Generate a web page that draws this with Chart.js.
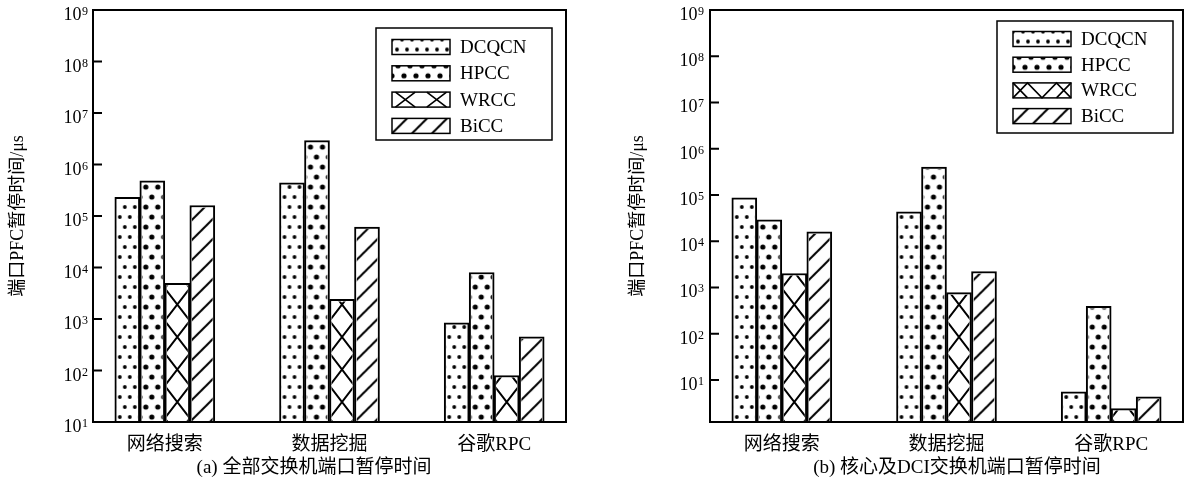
<!DOCTYPE html>
<html lang="zh">
<head>
<meta charset="UTF-8" />
<title>端口PFC暂停时间</title>
<script src="https://cdn.jsdelivr.net/npm/chart.js"></script>
<style>
  html, body { margin: 0; padding: 0; background: #fff; }
  .figure { position: relative; width: 1184px; height: 482px; }
  .panel { position: absolute; top: 0; height: 482px; }
  .caption {
    position: absolute; top: 457px; line-height: 20px; white-space: nowrap;
    font-size: 19px; font-family: "Liberation Serif", "Noto Sans CJK SC", serif;
    transform: translateX(-50%);
  }
</style>
</head>
<body>
<div class="figure">
  <div class="panel" style="left:0; width:580px"><canvas id="chartA"></canvas></div>
  <div class="panel" style="left:620px; width:564px"><canvas id="chartB"></canvas></div>
  <div class="caption" style="left:314px">(a) 全部交换机端口暂停时间</div>
  <div class="caption" style="left:957px">(b) 核心及DCI交换机端口暂停时间</div>
</div>

<script>
// categories & series
const categories = ["网络搜索", "数据挖掘", "谷歌RPC"];
const seriesNames = ["DCQCN", "HPCC", "WRCC", "BiCC"];
const yTicks = [1e1, 1e2, 1e3, 1e4, 1e5, 1e6, 1e7, 1e8, 1e9];

// (a) 全部交换机
const dcqcnA = [2.3e5, 4.4e5, 840];
const hpccA = [4.8e5, 2.9e6, 8000];
const wrccA = [4900, 2400, 80];
const biccA = [1.6e5, 6.1e4, 450];

// (b) 核心及DCI交换机
const dcqcnB = [8.7e4, 4.3e4, 5.5];
const hpccB = [2.9e4, 4.0e5, 390];
const wrccB = [2000, 770, 2.4];
const biccB = [1.6e4, 2200, 4.3];

const serif = '"Liberation Serif", "Noto Sans CJK SC", serif';
Chart.defaults.color = "#000";
Chart.defaults.font.family = serif;

// fill patterns (tiles)
function tile(w, h, draw) {
    const c = document.createElement("canvas");
    c.width = w;
    c.height = h;
    const g = c.getContext("2d");
    g.fillStyle = "#fff";
    g.fillRect(0, 0, w, h);
    g.fillStyle = "#000";
    g.strokeStyle = "#000";
    draw(g);
    return c;
}
function dots(g, pts, r) {
    pts.forEach(([x, y]) => {
        g.beginPath();
        g.arc(x, y, r, 0, Math.PI * 2);
        g.fill();
    });
}
const tiles = [
    tile(10, 20, (g) => dots(g, [[0, 5], [10, 5], [5, 15]], 1.9)),
    tile(12, 20, (g) => dots(g, [[6, 5], [0, 15], [12, 15]], 2.6)),
    null, // WRCC: lattice drawn per bar
    tile(20, 20, (g) => {
        g.lineWidth = 2;
        g.beginPath();
        [[-10, 10, 10, -10], [0, 20, 20, 0], [10, 30, 30, 10]].forEach(([a, b, c, d]) => {
            g.moveTo(a, b);
            g.lineTo(c, d);
        });
        g.stroke();
    }),
];
const patternCache = new WeakMap();
function patternsFor(ctx) {
    if (!patternCache.has(ctx)) {
        patternCache.set(ctx, tiles.map((t) => (t ? ctx.createPattern(t, "repeat") : null)));
    }
    return patternCache.get(ctx);
}

function clipTo(ctx, r) {
    ctx.beginPath();
    ctx.rect(r.left, r.top, r.right - r.left, r.bottom - r.top);
    ctx.clip();
}

// criss-cross lines of slope ±h/cw through (x0, y0 + k*h)
function lattice(ctx, r, x0, cw, h, y0, lw) {
    ctx.save();
    clipTo(ctx, r);
    const span = r.right - x0 + 2;
    const rise = (span * h) / cw;
    let a = y0 - Math.ceil((y0 - (r.top - rise - h)) / h) * h;
    ctx.beginPath();
    for (; a <= r.bottom + rise + h; a += h) {
        ctx.moveTo(x0, a);
        ctx.lineTo(x0 + span, a + rise);
        ctx.moveTo(x0, a);
        ctx.lineTo(x0 + span, a - rise);
    }
    ctx.lineWidth = lw || 2;
    ctx.strokeStyle = "#000";
    ctx.stroke();
    ctx.restore();
}

function paint(ctx, i, r, x0, cw, h, y0) {
    if (i === 2) {
        lattice(ctx, r, x0, cw, h, y0);
        return;
    }
    ctx.save();
    clipTo(ctx, r);
    ctx.translate(x0, r.bottom);
    ctx.fillStyle = patternsFor(ctx)[i];
    ctx.fillRect(r.left - x0, r.top - r.bottom, r.right - r.left, r.bottom - r.top);
    ctx.restore();
}

function legendSwatch(ctx, i, r, style) {
    if (i !== 2) {
        paint(ctx, i, r, r.left, 29, 15, r.top);
        return;
    }
    ctx.save();
    ctx.lineWidth = 1.6;
    ctx.strokeStyle = "#000";
    ctx.beginPath();
    const w = r.right - r.left;
    if (style === "x") {
        [0.06, 0.6].forEach((f) => {
            const x0 = r.left + f * w;
            const x1 = x0 + 0.34 * w;
            ctx.moveTo(x0, r.top);
            ctx.lineTo(x1, r.bottom);
            ctx.moveTo(x0, r.bottom);
            ctx.lineTo(x1, r.top);
        });
    } else {
        ctx.moveTo(r.left, r.bottom);
        ctx.lineTo(r.left + w * 0.25, r.top);
        ctx.lineTo(r.left + w * 0.5, r.bottom);
        ctx.lineTo(r.left + w * 0.75, r.top);
        ctx.lineTo(r.right, r.bottom);
        ctx.moveTo(r.left, r.top);
        ctx.lineTo(r.left + w * 0.25, r.bottom);
        ctx.moveTo(r.right, r.top);
        ctx.lineTo(r.left + w * 0.75, r.bottom);
    }
    ctx.stroke();
    ctx.restore();
}

const decor = {
    id: "decor",
    afterDatasetsDraw(chart) {
        const ctx = chart.ctx;
        chart.data.datasets.forEach((ds, di) => {
            chart.getDatasetMeta(di).data.forEach((bar) => {
                const { x, y, base, width } = bar.getProps(["x", "y", "base", "width"], true);
                const left = x - width / 2;
                const bottom = Math.max(y, base);
                const bw = ds.borderWidth;
                const r = { left: left + bw, top: Math.min(y, base) + bw, right: left + width - bw, bottom: bottom };
                if (r.bottom > r.top) paint(ctx, di, r, left, width, 32.5, bottom - 36.25);
            });
        });
    },
    afterDraw(chart, args, opts) {
        const { ctx, chartArea: a } = chart;
        const yScale = chart.scales.y;
        ctx.save();
        ctx.strokeStyle = "#000";
        ctx.fillStyle = "#000";
        ctx.lineWidth = 2;
        ctx.strokeRect(a.left, a.top, a.right - a.left, a.bottom - a.top);
        // inward ticks + "10^n" labels
        ctx.beginPath();
        ctx.textAlign = "right";
        ctx.textBaseline = "alphabetic";
        yScale.ticks.forEach((t) => {
            const py = yScale.getPixelForValue(t.value);
            ctx.moveTo(a.left, py);
            ctx.lineTo(a.left + 9, py);
            const exp = String(Math.round(Math.log10(t.value)));
            ctx.font = "12px " + serif;
            const ew = ctx.measureText(exp).width;
            const xr = a.left - opts.tickPad;
            ctx.fillText(exp, xr, py + 5);
            ctx.font = "18px " + serif;
            ctx.fillText("10", xr - ew - 0.5, py + 10);
        });
        ctx.stroke();

        // legend box
        const L = opts.legend;
        const bx = a.right - L.right - L.width;
        const by = a.top + L.top;
        ctx.lineWidth = 1.5;
        ctx.strokeRect(bx, by, L.width, L.height);
        ctx.font = "19px " + serif;
        ctx.textBaseline = "middle";
        ctx.textAlign = "left";
        chart.data.datasets.forEach((ds, i) => {
            const cy = by + L.rowStart + i * L.rowGap;
            const r = { left: bx + 16, top: cy - 7.5, right: bx + 74, bottom: cy + 7.5 };
            ctx.fillStyle = "#fff";
            ctx.fillRect(r.left, r.top, 58, 15);
            legendSwatch(ctx, i, r, L.wrcc);
            ctx.lineWidth = 1.5;
            ctx.strokeStyle = "#000";
            ctx.strokeRect(r.left, r.top, 58, 15);
            ctx.fillStyle = "#000";
            ctx.fillText(ds.label, bx + 84, cy + 1);
        });
        ctx.restore();
    },
};

function makeChart(id, series, yMin, yWidth, tickPad, padRight, legendOpts) {
    return new Chart(document.getElementById(id), {
        type: "bar",
        data: {
            datasets: series.map((vals, i) => ({
                label: seriesNames[i],
                data: vals.map((v, j) => ({ x: j, y: v })),
                backgroundColor: "#fff",
                borderColor: "#000",
                borderWidth: 2,
                borderSkipped: "start",
                barThickness: 25,
            })),
        },
        options: {
            responsive: true,
            maintainAspectRatio: false,
            animation: false,
            layout: { padding: { top: 10, right: padRight, bottom: 0, left: 0 } },
            plugins: {
                legend: { display: false },
                tooltip: { enabled: false },
                decor: { legend: legendOpts, tickPad: tickPad },
            },
            scales: {
                x: {
                    type: "linear",
                    min: -0.436,
                    max: 2.436,
                    offset: false,
                    grid: { display: false, drawTicks: false },
                    border: { display: false },
                    afterBuildTicks: (s) => {
                        s.ticks = categories.map((c, i) => ({ value: i }));
                    },
                    ticks: {
                        padding: 12,
                        font: { size: 19 },
                        maxRotation: 0,
                        autoSkip: false,
                        callback: (v) => categories[Math.round(v)],
                    },
                    afterFit: (s) => {
                        s.height = 60;
                    },
                },
                y: {
                    type: "logarithmic",
                    min: yMin,
                    max: 1e9,
                    grid: { display: false, drawTicks: false },
                    border: { display: false },
                    afterBuildTicks: (s) => {
                        s.ticks = yTicks.map((v) => ({ value: v }));
                    },
                    // labels drawn by the decor plugin with a raised exponent
                    ticks: { display: false, callback: (v) => "10^" + Math.round(Math.log10(v)) },
                    title: {
                        display: true,
                        text: "端口PFC暂停时间/μs",
                        font: { size: 18 },
                        padding: { top: 7, bottom: 0 },
                    },
                    afterFit: (s) => {
                        s.width = yWidth;
                    },
                },
            },
        },
        plugins: [decor],
    });
}

makeChart("chartA", [dcqcnA, hpccA, wrccA, biccA], 10, 93, 5, 14,
    { right: 14, top: 18, width: 176, height: 112, rowStart: 19, rowGap: 26.3, wrcc: "x" });
makeChart("chartB", [dcqcnB, hpccB, wrccB, biccB], 1.23, 90, 6, 1,
    { right: 10, top: 11, width: 176, height: 112, rowStart: 18, rowGap: 25.7, wrcc: "zigzag" });
</script>
</body>
</html>
